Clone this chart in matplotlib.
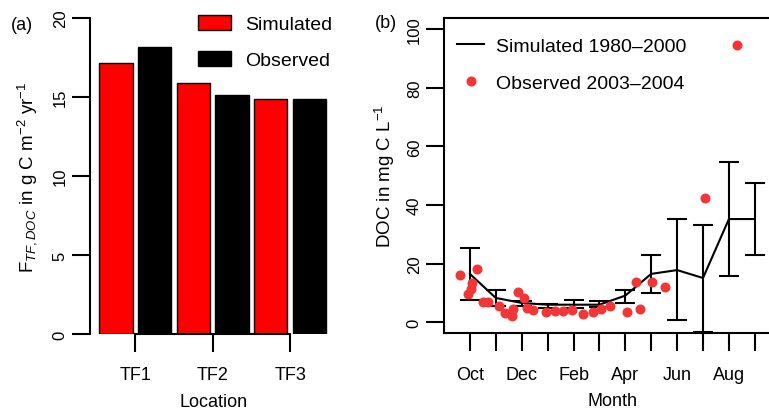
import matplotlib
matplotlib.use("Agg")
import matplotlib.pyplot as plt
from matplotlib.patches import Patch
from matplotlib.lines import Line2D
import numpy as np

plt.rcParams['font.family'] = ['Liberation Sans', 'DejaVu Sans']
plt.rcParams['mathtext.fontset'] = 'custom'
plt.rcParams['mathtext.rm'] = 'Liberation Sans'
plt.rcParams['mathtext.it'] = 'Liberation Sans:italic'
plt.rcParams['mathtext.bf'] = 'Liberation Sans:bold'

# ---- Panel (a) data ----
locations = ["TF1", "TF2", "TF3"]
simulated_flux = [17.15, 15.88, 14.9]
observed_flux = [18.15, 15.15, 14.9]

# ---- Panel (b) data ----
month_labels = ["Oct", "", "Dec", "", "Feb", "", "Apr", "", "Jun", "", "Aug", ""]
month_pos = list(range(1, 13))
sim_doc = [16.5, 8.3, 6.6, 6.0, 6.0, 6.0, 9.1, 16.5, 17.8, 15.1, 35.2, 35.2]
sim_hi = [25.2, 11.0, 7.2, 6.3, 7.5, 7.3, 11.0, 23.1, 35.2, 33.3, 54.8, 47.5]
sim_lo = [7.7, 5.7, 5.6, 4.8, 4.8, 5.2, 6.5, 9.9, 0.9, -3.2, 15.8, 23.1]
obs_x = [0.61, 0.94, 1.05, 1.07, 1.28, 1.51, 1.71, 2.12, 2.35, 2.61, 2.68, 2.86,
         3.08, 3.22, 3.45, 3.92, 4.28, 4.60, 4.95, 5.37, 5.76, 6.08, 6.41,
         7.05, 7.55, 7.41, 8.02, 8.53, 10.07, 11.30]
obs_doc = [16.2, 9.6, 11.5, 13.4, 18.2, 6.8, 6.8, 5.5, 3.2, 2.2, 4.6, 10.2,
           8.4, 5.0, 4.2, 3.4, 4.0, 4.0, 4.2, 2.7, 3.5, 4.5, 5.5,
           3.5, 4.6, 13.6, 13.6, 12.1, 42.3, 94.5]

W, H = 769, 414
fig = plt.figure(figsize=(W / 100, H / 100), dpi=100)

def fx(px):
    return px / W

def fy(py):
    return 1 - py / H

LW = 1.5
TICKLEN = 13
OBS_COLOR = '#F23535'

# ================= Panel (a) =================
axA = fig.add_axes([fx(90), fy(335), fx(340) - fx(90), fy(19) - fy(335)])
n = len(locations)
sim_pos = np.arange(n) * 2
obs_pos = sim_pos + 1
bw = 0.86
axA.bar(sim_pos, simulated_flux, width=bw, color='#FF0000', edgecolor='black', linewidth=1.0)
axA.bar(obs_pos, observed_flux, width=bw, color='black', edgecolor='black', linewidth=1.0)
axA.set_xlim(-0.672, 5.788)
axA.set_ylim(0, 20)
group_centers = sim_pos + 0.5
axA.set_xticks(group_centers)
axA.set_xticklabels(locations)
axA.set_yticks([0, 5, 10, 15, 20])
for s in ['top', 'right']:
    axA.spines[s].set_visible(False)
axA.spines['left'].set_bounds(0, 20)
axA.spines['bottom'].set_bounds(group_centers[0], group_centers[-1])
for s in ['left', 'bottom']:
    axA.spines[s].set_linewidth(LW)
axA.tick_params(direction='out', length=TICKLEN, width=LW)
axA.tick_params(axis='x', labelsize=13, pad=10)
axA.tick_params(axis='y', labelsize=12, pad=3)
for lab in axA.get_yticklabels():
    lab.set_rotation(90)
    lab.set_va('center')
axA.set_xlabel("Location", fontsize=13)
axA.xaxis.set_label_coords(0.494, -0.186)
axA.set_ylabel(r'F$_{TF,DOC}$ in g C m$^{-2}$ yr$^{-1}$', fontsize=13.5, va='center')
axA.yaxis.set_label_coords(-0.25, 0.5)
legA = axA.legend(handles=[Patch(facecolor='#FF0000', edgecolor='black'),
                           Patch(facecolor='black', edgecolor='black')],
                  labels=["Simulated", "Observed"],
                  loc='upper left', bbox_to_anchor=(fx(197.7), fy(16)),
                  bbox_transform=fig.transFigure, frameon=False, fontsize=14,
                  handlelength=1.7, handleheight=0.8, handletextpad=0.72,
                  labelspacing=0.9, borderpad=0, borderaxespad=0)
fig.text(fx(11), fy(25), "(a)", fontsize=13, va='center', ha='left')

# ================= Panel (b) =================
px_per_unit = 25.9
x_left, x_right = 0.0, 13.0
axB = fig.add_axes([fx(444), fy(333.7), (x_right - x_left) * px_per_unit / W,
                    fy(19) - fy(333.7)])
axB.errorbar(month_pos, sim_doc,
             yerr=[np.array(sim_doc) - np.array(sim_lo), np.array(sim_hi) - np.array(sim_doc)],
             fmt='-', color='black', lw=LW, elinewidth=LW, capsize=7.2, capthick=LW,
             zorder=2)
axB.plot(obs_x, obs_doc, 'o', color=OBS_COLOR, markersize=7.2, markeredgewidth=0, zorder=3)
axB.set_xlim(x_left, x_right)
axB.set_ylim(-3.55, 103.75)
axB.set_xticks(month_pos)
axB.set_xticklabels(month_labels)
axB.set_yticks([0, 20, 40, 60, 80, 100])
for s in axB.spines.values():
    s.set_linewidth(LW)
axB.tick_params(direction='out', length=TICKLEN, width=LW)
axB.tick_params(axis='x', labelsize=13, pad=11)
axB.tick_params(axis='y', labelsize=12, pad=3)
for lab in axB.get_yticklabels():
    lab.set_rotation(90)
    lab.set_va('center')
axB.set_xlabel("Month", fontsize=13)
axB.xaxis.set_label_coords((612.8 - 444) / ((x_right - x_left) * px_per_unit), -0.19)
axB.set_ylabel(r'DOC in mg C L$^{-1}$', fontsize=13.5, va='center')
axB.yaxis.set_label_coords(-0.175, 0.5)
legB = axB.legend(handles=[Line2D([], [], color='black', lw=LW),
                           Line2D([], [], ls='none', marker='o', color=OBS_COLOR,
                                  markersize=7.2, markeredgewidth=0)],
                  labels=["Simulated 1980\u20132000", "Observed 2003\u20132004"],
                  loc='upper left', bbox_to_anchor=(fx(457), fy(38)),
                  bbox_transform=fig.transFigure, frameon=False, fontsize=14,
                  handlelength=1.4, handletextpad=0.62,
                  labelspacing=1.0, borderpad=0, borderaxespad=0)
fig.text(fx(397), fy(24), "(b)", fontsize=13, va='center', ha='right')

fig.savefig("out.png", dpi=100)
